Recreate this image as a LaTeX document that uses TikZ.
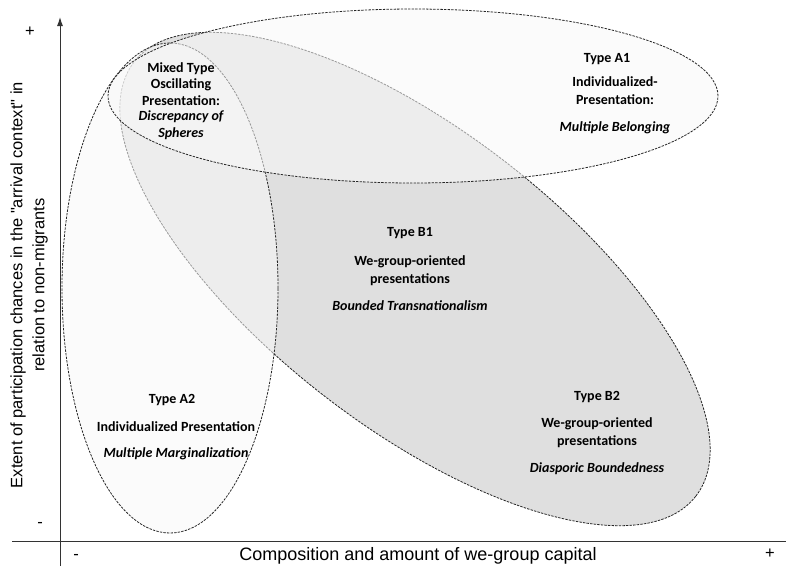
\documentclass[tikz,border=0pt]{standalone}
\usepackage{fontspec}
\setmainfont{Carlito}
\newfontfamily\arialf{Liberation Sans}
\usetikzlibrary{arrows.meta}
\begin{document}
\begin{tikzpicture}[x=1pt,y=-1pt,
  ell/.style={draw=black!85, line width=0.8pt, dash pattern=on 2.4pt off 1.2pt},
  light/.style={fill=gray!5, fill opacity=0.55},
  lab/.style={font=\fontsize{14}{18}\selectfont\bfseries, align=center, inner sep=0pt},
  ital/.style={font=\fontsize{14}{18}\selectfont\bfseries\itshape, align=center, inner sep=0pt},
  labc/.style={font=\fontsize{14}{16.4}\selectfont\bfseries, align=center, inner sep=0pt},
  italc/.style={font=\fontsize{14}{16.4}\selectfont\bfseries\itshape, align=center, inner sep=0pt},
  axl/.style={font=\arialf\fontsize{16.5}{22}\selectfont, inner sep=0pt, align=center},
  axis/.style={draw=black!80, line width=1pt}]
\useasboundingbox (0,0) rectangle (786,566);
\fill[white] (0,0) rectangle (786,566);
% ellipse B (tilted, darker)
\path[ell, fill=gray!25, shift={(415,279)}, rotate=-37.7] (0,0) ellipse [x radius=355pt, y radius=148pt];
% ellipse A2 (vertical)
\path[ell, light] (170,288) ellipse [x radius=108pt, y radius=245pt];
% ellipse A1 (horizontal)
\path[ell, light] (413,96) ellipse [x radius=305pt, y radius=87pt];

% texts
\node[labc] (mx) at (181,84) {Mixed Type\\Oscillating\\Presentation:};
\node[italc] (mxi) at (181,125) {Discrepancy of\\Spheres};

\node[lab] (a1t) at (607,59) {Type A1};
\node[lab] (a1m) at (615,91) {Individualized-\\Presentation:};
\node[ital] (a1i) at (615,128) {Multiple Belonging};

\node[lab] (b1t) at (410,233) {Type B1};
\node[lab] (b1m) at (410,271) {We-group-oriented\\presentations};
\node[ital] (b1i) at (410,306) {Bounded Transnationalism};

\node[lab] (a2t) at (172,400) {Type A2};
\node[lab] (a2m) at (176,427) {Individualized Presentation};
\node[ital] (a2i) at (176,454) {Multiple Marginalization};

\node[lab] (b2t) at (597,397) {Type B2};
\node[lab] (b2m) at (597,433) {We-group-oriented\\presentations};
\node[ital] (b2i) at (597,469) {Diasporic Boundedness};

% axes
\coordinate (ybot) at (60,566);
\coordinate (ytop) at (60,17);
\coordinate (xl) at (12,541);
\coordinate (xr) at (786,541);
\draw[axis] (xl) -- (xr);
\draw[axis, -{Latex[length=9pt,width=6pt]}] (ybot) -- (ytop);

\node[axl, font=\arialf\fontsize{18}{22}\selectfont] (xlab) at (418,556) {Composition and amount of we-group capital};
\node[axl, rotate=90] (ylab) at (29,285) {Extent of participation chances in the "arrival context" in\\relation to non-migrants};
\node[axl] (yp) at (30,32) {+};
\node[axl] (ym) at (40,525) {-};
\node[axl] (xm) at (76,557) {-};
\node[axl] (xp) at (770,554) {+};
\end{tikzpicture}
\end{document}
